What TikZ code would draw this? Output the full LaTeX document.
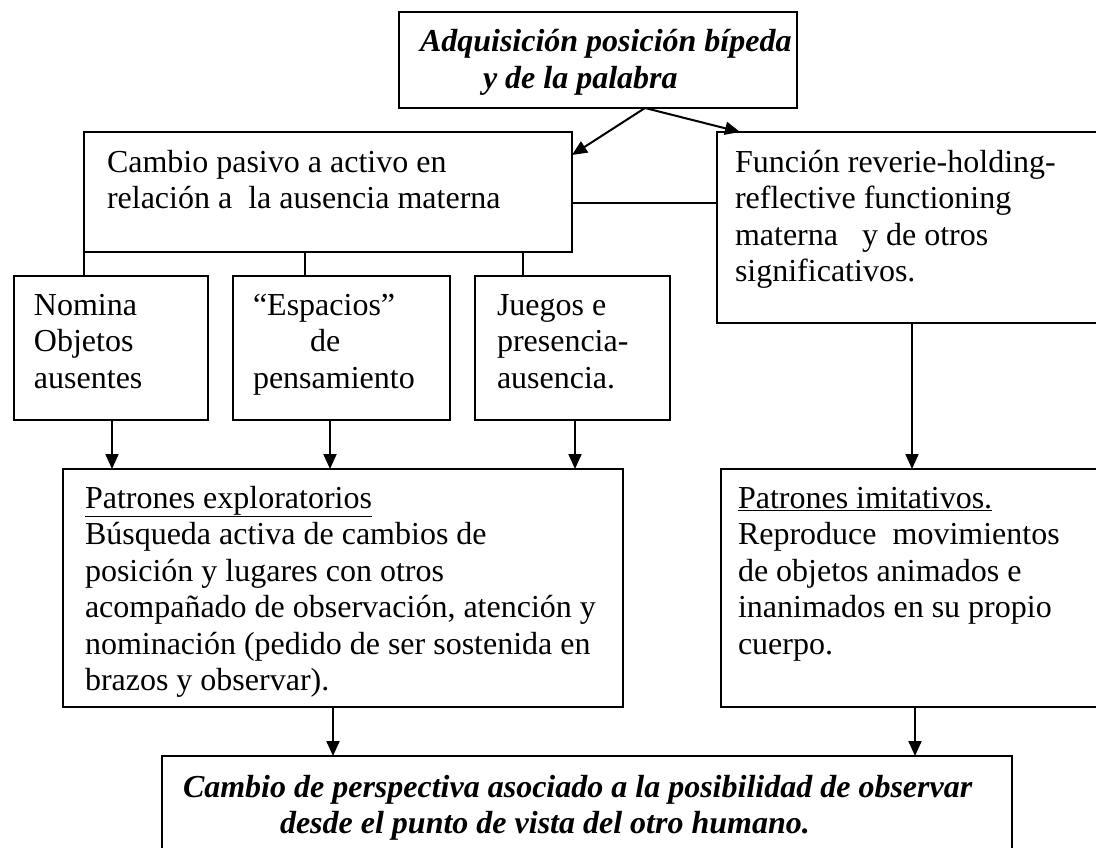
\documentclass[tikz,border=0pt]{standalone}
\usepackage{fontspec}
\setmainfont{Liberation Serif}
\usetikzlibrary{arrows.meta}

\newcommand{\textocaja}[5]{\parbox[t][#2][t]{#1}{\raggedright\leftskip=#3\relax\vspace*{#4}\strut #5}}

\begin{document}
\begin{tikzpicture}[x=1pt, y=-1pt,
	caja/.style={draw, line width=2.6pt, inner sep=0pt, outer sep=0pt, anchor=north west, font=\fontsize{32}{36.5}\selectfont},
	negrita/.style={font=\fontsize{32}{36.5}\selectfont\bfseries\itshape},
	flecha/.style={-{Triangle[length=15pt,width=13pt]}, line width=2pt},
	linea/.style={line width=2.4pt}]
			\path[use as bounding box] (0,0) rectangle (1096,848);
			\clip (0,0) rectangle (1096,848);
			% caja superior
			\node[caja, negrita] (adq) at (399,12) {\textocaja{398pt}{96pt}{21pt}{14pt}{Adquisición posición bípeda\\ \hspace*{63pt}y de la palabra}};
			% segundo nivel
			\node[caja] (cambio) at (84,132) {\textocaja{488pt}{120pt}{23pt}{14.5pt}{Cambio pasivo a activo en\\ relación a\ \ la ausencia materna}};
			\node[caja] (funcion) at (717,132) {\textocaja{393pt}{191pt}{18pt}{14.5pt}{Función reverie-holding-\\ reflective functioning\\ materna\ \ \ y de otros\\ significativos.}};
			% cajas pequenas
			\node[caja] (nomina) at (14,276) {\textocaja{194pt}{144pt}{20pt}{13.5pt}{Nomina\\ Objetos\\ ausentes}};
			\node[caja] (espacios) at (233,276) {\textocaja{217pt}{144pt}{20pt}{13.5pt}{“Espacios”\\ \hspace*{57pt}de\\ pensamiento}};
			\node[caja] (juegos) at (475,276) {\textocaja{195pt}{144pt}{22pt}{13.5pt}{Juegos e\\ presencia-\\ ausencia.}};
			% patrones
			\node[caja] (explor) at (63,469) {\textocaja{560pt}{238pt}{22pt}{13.5pt}{\underline{Patrones exploratorios}\\ Búsqueda activa de cambios de\\ posición y lugares con otros\\ acompañado de observación, atención y\\ nominación (pedido de ser sostenida en\\ brazos y observar).}};
			\node[caja] (imitat) at (721,469) {\textocaja{389pt}{238pt}{17pt}{13.5pt}{\underline{Patrones imitativos.}\\ Reproduce\ \ movimientos\\ de objetos animados e\\ inanimados en su propio\\ cuerpo.}};
			% caja final
			\node[caja, negrita] (final) at (162,756) {\textocaja{850pt}{120pt}{21pt}{15.5pt}{Cambio de perspectiva asociado a la posibilidad de observar\\ \hspace*{97pt}desde el punto de vista del otro humano.}};
			% flechas desde arriba
			\draw[flecha] ([xshift=47pt]adq.south) -- ([yshift=-23pt]cambio.north east);
			\draw[flecha] ([xshift=47pt]adq.south) -- ([xshift=23pt]funcion.north west);
			% union cambio - funcion
			\coordinate (union) at ([yshift=-11pt]cambio.east);
			\draw[linea] (union) -- (union -| funcion.west);
			% ramas
			\coordinate (r2) at ([xshift=72pt]espacios.north west);
			\coordinate (r3) at ([xshift=48pt]juegos.north west);
			\draw[linea] (cambio.south west) -- (cambio.south west |- nomina.north);
			\draw[linea] (r2) -- (r2 |- cambio.south);
			\draw[linea] (r3) -- (r3 |- cambio.south);
			% flechas hacia patrones
			\coordinate (s1) at ([xshift=98pt]nomina.south west);
			\coordinate (s2) at ([xshift=97pt]espacios.south west);
			\coordinate (s3) at ([xshift=100pt]juegos.south west);
			\coordinate (s4) at ([xshift=195pt]funcion.south west);
			\foreach \s in {s1,s2,s3}
				\draw[flecha] (\s) -- (\s |- explor.north);
			\draw[flecha] (s4) -- (s4 |- imitat.north);
			% flechas hacia la caja final
			\coordinate (s5) at ([xshift=270pt]explor.south west);
			\coordinate (s6) at ([xshift=194pt]imitat.south west);
			\draw[flecha] (s5) -- (s5 |- final.north);
			\draw[flecha] (s6) -- (s6 |- final.north);
		\end{tikzpicture}
\end{document}
